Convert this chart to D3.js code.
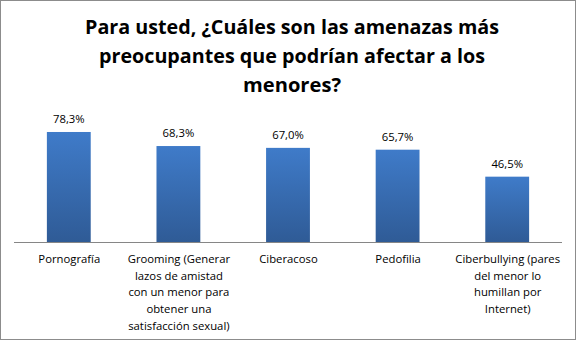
<!DOCTYPE html>
<html>
<head>
<meta charset="utf-8">
<script src="https://cdn.jsdelivr.net/npm/d3@7"></script>
<style>
  html, body { margin: 0; padding: 0; background: #fff; }
  svg { display: block; }
</style>
</head>
<body>
<svg id="chart" width="577" height="341"></svg>
<script>
const titleLines = ["Para usted, ¿Cuáles son las amenazas más", "preocupantes que podrían afectar a los", "menores?"];
const categories = ["Pornografía", "Grooming", "Ciberacoso", "Pedofilia", "Ciberbullying"];
const categoryLabels = [
  ["Pornografía"],
  ["Grooming (Generar", "lazos de amistad", "con un menor para", "obtener una", "satisfacción sexual)"],
  ["Ciberacoso"],
  ["Pedofilia"],
  ["Ciberbullying (pares", "del menor lo", "humillan por", "Internet)"]
];
const values = [78.3, 68.3, 67.0, 65.7, 46.5];
const valueLabels = ["78,3%", "68,3%", "67,0%", "65,7%", "46,5%"];

const W = 577, H = 341;
const svg = d3.select("#chart");
const font = "'Open Sans', 'Liberation Sans', sans-serif";

// background + border
svg.append("rect").attr("x", 0.5).attr("y", 0.5).attr("width", W - 2).attr("height", H - 2)
  .attr("fill", "#fff").attr("stroke", "#8c8c8c").attr("stroke-width", 1);

const defs = svg.append("defs");
const grad = defs.append("linearGradient").attr("id", "barGrad")
  .attr("x1", 0).attr("y1", 0).attr("x2", 0).attr("y2", 1);
grad.append("stop").attr("offset", "0%").attr("stop-color", "#3f7bc9");
grad.append("stop").attr("offset", "100%").attr("stop-color", "#2f5b96");

// title
const title = svg.append("text").attr("text-anchor", "middle")
  .attr("font-family", "'Open Sans', sans-serif").attr("font-weight", "bold")
  .attr("font-size", 19.5).attr("fill", "#000");
const titleWidths = [414, 386, 98];
titleLines.forEach((t, i) => {
  title.append("tspan").attr("x", 292).attr("y", 34 + i * 29)
    .attr("textLength", titleWidths[i]).attr("lengthAdjust", "spacingAndGlyphs").text(t);
});

const x = d3.scaleBand().domain(categories).range([14, 562]).paddingInner(0.6).paddingOuter(0.3);
const y = d3.scaleLinear().domain([0, 100]).range([242, 101.5]);

// bars
svg.append("g").selectAll("rect").data(values).join("rect")
  .attr("x", (d, i) => x(categories[i]))
  .attr("y", d => y(d))
  .attr("width", x.bandwidth())
  .attr("height", d => y(0) - y(d))
  .attr("fill", "url(#barGrad)");

// value labels
svg.append("g").selectAll("text").data(values).join("text")
  .attr("x", (d, i) => x(categories[i]) + x.bandwidth() / 2)
  .attr("y", d => y(d) - 9)
  .attr("text-anchor", "middle")
  .attr("font-family", font).attr("font-size", 11.3).attr("fill", "#000")
  .text((d, i) => valueLabels[i]);

// axis
const axis = d3.axisBottom(x).tickSize(0).tickFormat("");
const gx = svg.append("g").attr("transform", `translate(0,${y(0)})`).call(axis);
gx.select(".domain").attr("stroke", "#868686").attr("d", "M14,0.5H562");

// category labels
const lab = svg.append("g");
categoryLabels.forEach((lines, i) => {
  const t = lab.append("text").attr("text-anchor", "middle")
    .attr("font-family", font).attr("font-size", 11.3).attr("fill", "#000");
  lines.forEach((l, j) => {
    t.append("tspan").attr("x", x(categories[i]) + x.bandwidth() / 2 + 0.5)
      .attr("y", 263 + j * 16.7).text(l);
  });
});
</script>
</body>
</html>
